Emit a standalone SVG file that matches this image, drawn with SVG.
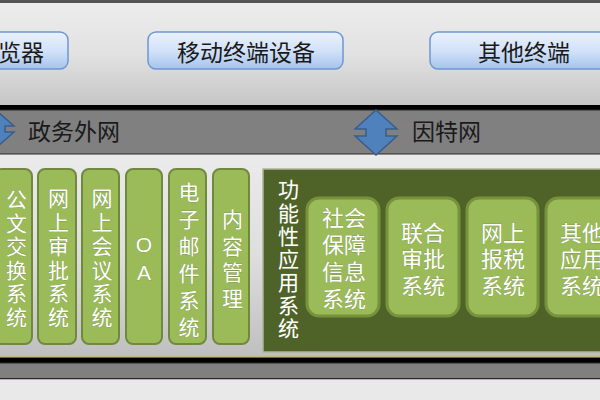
<svg xmlns="http://www.w3.org/2000/svg" width="600" height="400" viewBox="0 0 600 400">
<defs>
<linearGradient id="gTop" x1="0" y1="0" x2="0" y2="1"><stop offset="0" stop-color="#ececec"/><stop offset="0.5" stop-color="#e2e2e2"/><stop offset="1" stop-color="#c6c6c6"/></linearGradient>
<linearGradient id="gLow" x1="0" y1="0" x2="0" y2="1"><stop offset="0" stop-color="#ebebeb"/><stop offset="0.5" stop-color="#dedede"/><stop offset="1" stop-color="#bfbfbf"/></linearGradient>
<linearGradient id="gBtn" x1="0" y1="0" x2="0" y2="1"><stop offset="0" stop-color="#eaf1fc"/><stop offset="0.5" stop-color="#d3e2f8"/><stop offset="1" stop-color="#a6c4ee"/></linearGradient>
<style>
.btn{fill:url(#gBtn);stroke:#6f97d0;stroke-width:1.5}
.btxt{font-family:"Noto Sans CJK SC","Noto Sans",sans-serif;font-size:23px;fill:#1a1a1a}
.band{fill:#808080;stroke:#2a2a2a;stroke-width:1}
.gbox{fill:#9bbb59;stroke:#71893f;stroke-width:2}
.ibox{fill:#9bbb59;stroke:#76923c;stroke-width:3}
.wt{font-family:"Liberation Sans","Noto Sans CJK SC",sans-serif;font-size:21px;fill:#ffffff;stroke:#6e7f4c;stroke-width:0.4;paint-order:stroke;text-anchor:middle}
.vt{writing-mode:vertical-rl;text-anchor:start}
.wt2{font-size:22px}
.arr{fill:#4f81bd;stroke:#385d8a;stroke-width:1.5;stroke-linejoin:miter}
</style>
</defs>
<g id="background">
<rect x="0" y="0" width="600" height="400" fill="#e9e9e9"/>
<rect x="0" y="0" width="600" height="3" fill="#555"/>
<rect x="0" y="3" width="600" height="102" fill="url(#gTop)"/>
<rect x="0" y="105" width="600" height="5" fill="#000"/>
<rect id="band-top" class="band" x="-2" y="110" width="604" height="44"/>
<rect x="0" y="155" width="600" height="202" fill="url(#gLow)"/>
<rect x="0" y="356" width="600" height="1.5" fill="#c2b58a"/>
<rect x="0" y="357.5" width="600" height="5.5" fill="#000"/>
<rect id="band-bottom" class="band" x="-2" y="363" width="604" height="15.5"/>
<rect x="0" y="379" width="600" height="1" fill="#c2b58a"/>
</g>
<g id="node-browser">
<rect class="btn" x="-60" y="32" width="128" height="37" rx="8"/>
<text class="btxt" x="-2" y="60.5">览器</text>
</g>
<g id="node-mobile">
<rect class="btn" x="148" y="32" width="195" height="37" rx="8"/>
<text class="btxt" x="246" y="60.5" text-anchor="middle">移动终端设备</text>
</g>
<g id="node-other-terminal">
<rect class="btn" x="430" y="32" width="190" height="37" rx="8"/>
<text class="btxt" x="524" y="60.5" text-anchor="middle">其他终端</text>
</g>
<g id="label-gov">
<text class="btxt" x="28" y="139.5">政务外网</text>
</g>
<g id="label-internet">
<text class="btxt" x="412" y="139.5">因特网</text>
</g>
<g id="connectors">
<path class="arr" d="M376,110 L397,129 L386,129 L386,136 L397,136 L376,155 L355,136 L366,136 L366,129 L355,129 Z"/>
<path class="arr" d="M-3,111 L14,126 L5,126 L5,132 L14,132 L-3,147 L-20,132 L-11,132 L-11,126 L-20,126 Z"/>
</g>
<g id="node-gwjh">
<rect class="gbox" x="-5" y="169" width="37" height="175" rx="7"/>
<text class="wt vt" x="15" y="189" letter-spacing="2.5">公文交换系统</text>
</g>
<g id="node-wssp">
<rect class="gbox" x="38" y="169" width="38" height="175" rx="7"/>
<text class="wt vt" x="57" y="188" letter-spacing="2.7">网上审批系统</text>
</g>
<g id="node-wshy">
<rect class="gbox" x="82" y="169" width="37" height="175" rx="7"/>
<text class="wt vt" x="100.5" y="188" letter-spacing="2.7">网上会议系统</text>
</g>
<g id="node-oa">
<rect class="gbox" x="126" y="169" width="36" height="175" rx="7"/>
<text class="wt"><tspan x="144" y="252">O</tspan><tspan x="144" y="280">A</tspan></text>
</g>
<g id="node-email">
<rect class="gbox" x="169" y="169" width="37" height="175" rx="7"/>
<text class="wt vt" x="187.5" y="182" letter-spacing="5.9">电子邮件系统</text>
</g>
<g id="node-content">
<rect class="gbox" x="213" y="169" width="36" height="175" rx="7"/>
<text class="wt vt" x="231" y="209" letter-spacing="5.2">内容管理</text>
</g>
<g id="node-func-panel">
<rect x="263" y="169" width="345" height="183" fill="#4f6228" stroke="#aeb59a" stroke-width="1.5"/>
<text class="wt vt" x="287" y="179" letter-spacing="2.1">功能性应用系统</text>
</g>
<g id="node-shbz">
<rect class="ibox" x="307" y="198" width="72" height="118" rx="12"/>
<text class="wt wt2"><tspan x="344" y="225.5">社会</tspan><tspan x="344" y="252.5">保障</tspan><tspan x="344" y="280">信息</tspan><tspan x="344" y="306.5">系统</tspan></text>
</g>
<g id="node-lhsp">
<rect class="ibox" x="387" y="198" width="72" height="118" rx="12"/>
<text class="wt wt2"><tspan x="423" y="240.5">联合</tspan><tspan x="423" y="266.5">审批</tspan><tspan x="423" y="293.5">系统</tspan></text>
</g>
<g id="node-wsbs">
<rect class="ibox" x="467" y="198" width="71" height="118" rx="12"/>
<text class="wt wt2"><tspan x="503" y="240.5">网上</tspan><tspan x="503" y="266.5">报税</tspan><tspan x="503" y="293.5">系统</tspan></text>
</g>
<g id="node-other-app">
<rect class="ibox" x="546" y="198" width="72" height="118" rx="12"/>
<text class="wt wt2"><tspan x="582" y="240.5">其他</tspan><tspan x="582" y="266.5">应用</tspan><tspan x="582" y="293.5">系统</tspan></text>
</g>
</svg>
